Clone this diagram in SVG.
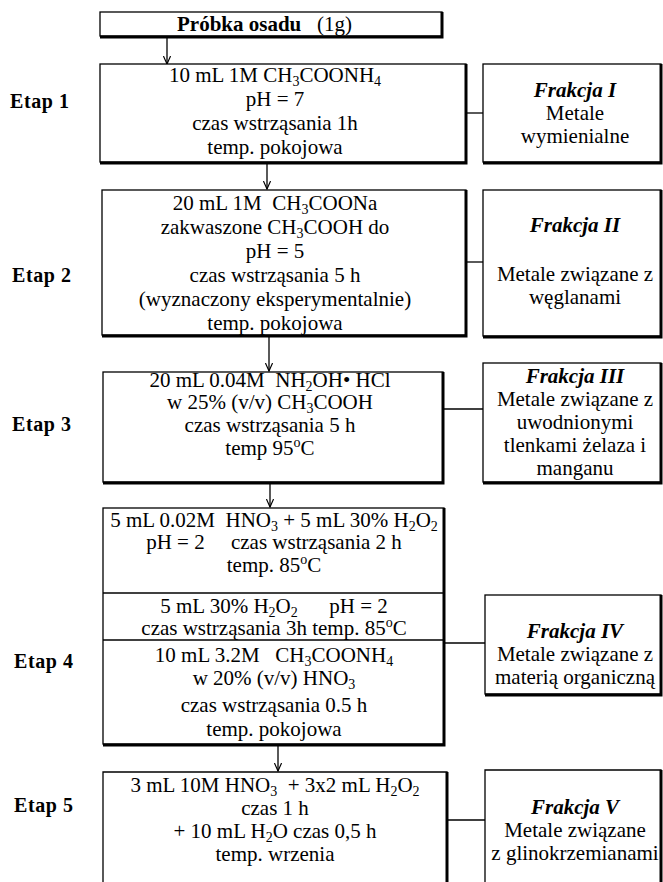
<svg xmlns="http://www.w3.org/2000/svg" width="663" height="882" viewBox="0 0 663 882" xml:space="preserve">
<defs>
<style>
text{font-family:"Liberation Serif","Times New Roman",serif;font-size:21px;fill:#000;white-space:pre}
.c{text-anchor:middle}
.b{font-weight:bold}
.bi{font-weight:bold;font-style:italic}
.et{font-weight:bold;font-size:20px;letter-spacing:0.6px}
.box{fill:#fff;stroke:#000;stroke-width:1.3}
.sh{fill:none;stroke:#000;stroke-width:3}
.ln{fill:none;stroke:#000;stroke-width:1.3}
.s{font-size:14px}
</style>
<marker id="arr" viewBox="0 0 10 10" refX="10" refY="5" markerWidth="9" markerHeight="8" markerUnits="userSpaceOnUse" orient="auto"><path d="M0,0.5 L10,5 L0,9.5" fill="none" stroke="#000" stroke-width="1.5"/></marker>
</defs>
<rect width="663" height="882" fill="#fff"/>

<g id="connectors">
<line class="ln" x1="167" y1="37" x2="167" y2="64" marker-end="url(#arr)"/>
<line class="ln" x1="267" y1="163" x2="267" y2="189" marker-end="url(#arr)"/>
<line class="ln" x1="269" y1="336" x2="269" y2="371" marker-end="url(#arr)"/>
<line class="ln" x1="270" y1="484" x2="270" y2="507" marker-end="url(#arr)"/>
<line class="ln" x1="278" y1="745" x2="278" y2="771" marker-end="url(#arr)"/>
<line class="ln" x1="467" y1="113" x2="483" y2="113"/>
<line class="ln" x1="466" y1="262" x2="483" y2="262"/>
<line class="ln" x1="443" y1="409" x2="483" y2="409"/>
<line class="ln" x1="444" y1="643" x2="485" y2="643"/>
<line class="ln" x1="447" y1="820" x2="485" y2="820"/>
</g>

<g id="start">
<rect class="box" x="100" y="12" width="342" height="24"/>
<path class="sh" d="M442,12 V37 H100"/>
<text x="177" y="31"><tspan class="b">Próbka osadu</tspan>   (1g)</text>
</g>

<g id="labels">
<text class="et" x="10" y="108">Etap 1</text>
<text class="et" x="12" y="282">Etap 2</text>
<text class="et" x="12" y="431">Etap 3</text>
<text class="et" x="14" y="668">Etap 4</text>
<text class="et" x="14" y="812">Etap 5</text>
</g>

<g id="etap1">
<rect class="box" x="100" y="64" width="366" height="98"/>
<path class="sh" d="M466,64 V163 H100"/>
<text class="c" x="275" y="82">10 mL 1M CH<tspan class="s" dy="4">3</tspan><tspan dy="-4">COONH</tspan><tspan class="s" dy="4">4</tspan></text>
<text class="c" x="275" y="106">pH = 7</text>
<text class="c" x="275" y="130">czas wstrząsania 1h</text>
<text class="c" x="275" y="154">temp. pokojowa</text>
</g>

<g id="etap2">
<rect class="box" x="102" y="190" width="364" height="145"/>
<path class="sh" d="M466,190 V336 H102"/>
<text class="c" x="275" y="210">20 mL 1M  CH<tspan class="s" dy="4">3</tspan><tspan dy="-4">COONa</tspan></text>
<text class="c" x="275" y="234">zakwaszone CH<tspan class="s" dy="4">3</tspan><tspan dy="-4">COOH do</tspan></text>
<text class="c" x="275" y="258">pH = 5</text>
<text class="c" x="275" y="282">czas wstrząsania 5 h</text>
<text class="c" x="275" y="306">(wyznaczony eksperymentalnie)</text>
<text class="c" x="275" y="330">temp. pokojowa</text>
</g>

<g id="etap3">
<rect class="box" x="103" y="372" width="340" height="110"/>
<path class="sh" d="M443,372 V483 H103"/>
<text class="c" x="270" y="387">20 mL 0.04M  NH<tspan class="s" dy="4">2</tspan><tspan dy="-4">OH• HCl</tspan></text>
<text class="c" x="270" y="409">w 25% (v/v) CH<tspan class="s" dy="4">3</tspan><tspan dy="-4">COOH</tspan></text>
<text class="c" x="270" y="432">czas wstrząsania 5 h</text>
<text class="c" x="270" y="455">temp 95<tspan class="s" dy="-8">o</tspan><tspan dy="8">C</tspan></text>
</g>

<g id="etap4">
<rect class="box" x="103" y="508" width="341" height="236"/>
<path class="sh" d="M444,508 V745 H103"/>
<line class="ln" x1="103" y1="593" x2="444" y2="593"/>
<line class="ln" x1="103" y1="640" x2="444" y2="640"/>
<text class="c" x="274" y="527">5 mL 0.02M  HNO<tspan class="s" dy="4">3</tspan><tspan dy="-4"> + 5 mL 30% H</tspan><tspan class="s" dy="4">2</tspan><tspan dy="-4">O</tspan><tspan class="s" dy="4">2</tspan></text>
<text class="c" x="274" y="549">pH = 2     czas wstrząsania 2 h</text>
<text class="c" x="274" y="572">temp. 85<tspan class="s" dy="-8">o</tspan><tspan dy="8">C</tspan></text>
<text class="c" x="274" y="613">5 mL 30% H<tspan class="s" dy="4">2</tspan><tspan dy="-4">O</tspan><tspan class="s" dy="4">2</tspan><tspan dy="-4">      pH = 2</tspan></text>
<text class="c" x="274" y="635">czas wstrząsania 3h temp. 85<tspan class="s" dy="-8">o</tspan><tspan dy="8">C</tspan></text>
<text class="c" x="274" y="662">10 mL 3.2M   CH<tspan class="s" dy="4">3</tspan><tspan dy="-4">COONH</tspan><tspan class="s" dy="4">4</tspan></text>
<text class="c" x="274" y="685">w 20% (v/v) HNO<tspan class="s" dy="4">3</tspan></text>
<text class="c" x="274" y="712">czas wstrząsania 0.5 h</text>
<text class="c" x="274" y="736">temp. pokojowa</text>
</g>

<g id="etap5">
<path class="box" d="M103,883 V772 H447 V883"/>
<path class="sh" d="M447,772 V883"/>
<text class="c" x="275" y="792">3 mL 10M HNO<tspan class="s" dy="4">3</tspan><tspan dy="-4">  + 3x2 mL H</tspan><tspan class="s" dy="4">2</tspan><tspan dy="-4">O</tspan><tspan class="s" dy="4">2</tspan></text>
<text class="c" x="275" y="815">czas 1 h</text>
<text class="c" x="275" y="838">+ 10 mL H<tspan class="s" dy="4">2</tspan><tspan dy="-4">O czas 0,5 h</tspan></text>
<text class="c" x="275" y="861">temp. wrzenia</text>
</g>

<g id="frakcja1">
<rect class="box" x="483" y="64" width="178" height="98"/>
<path class="sh" d="M661,64 V163 H483"/>
<text class="c bi" x="575" y="97">Frakcja I</text>
<text class="c" x="575" y="120">Metale</text>
<text class="c" x="575" y="143">wymienialne</text>
</g>

<g id="frakcja2">
<rect class="box" x="483" y="190" width="178" height="146"/>
<path class="sh" d="M661,190 V337 H483"/>
<text class="c bi" x="575" y="232">Frakcja II</text>
<text class="c" x="575" y="281">Metale związane z</text>
<text class="c" x="575" y="304">węglanami</text>
</g>

<g id="frakcja3">
<rect class="box" x="483" y="363" width="178" height="119"/>
<path class="sh" d="M661,363 V483 H483"/>
<text class="c bi" x="575" y="383">Frakcja III</text>
<text class="c" x="575" y="406">Metale związane z</text>
<text class="c" x="575" y="429">uwodnionymi</text>
<text class="c" x="575" y="452">tlenkami żelaza i</text>
<text class="c" x="575" y="475">manganu</text>
</g>

<g id="frakcja4">
<rect class="box" x="485" y="595" width="176" height="99"/>
<path class="sh" d="M661,595 V695 H485"/>
<text class="c bi" x="575" y="638">Frakcja IV</text>
<text class="c" x="575" y="661">Metale związane z</text>
<text class="c" x="575" y="684">materią organiczną</text>
</g>

<g id="frakcja5">
<path class="box" d="M485,883 V770 H661 V883"/>
<path class="sh" d="M661,770 V883"/>
<text class="c bi" x="575" y="814">Frakcja V</text>
<text class="c" x="575" y="837">Metale związane</text>
<text class="c" x="575" y="860">z glinokrzemianami</text>
</g>
</svg>
